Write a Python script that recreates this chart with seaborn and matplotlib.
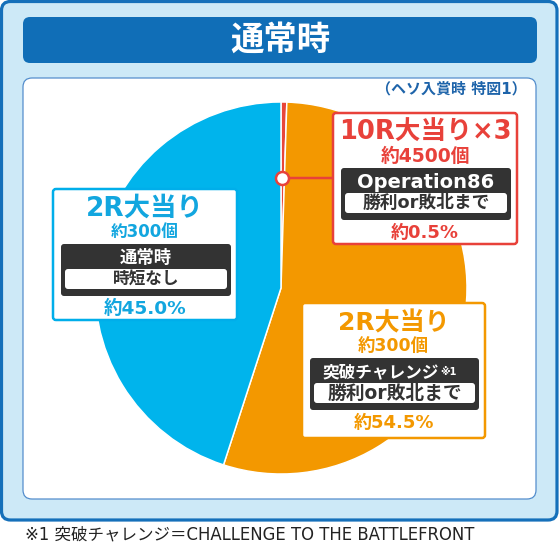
import matplotlib
matplotlib.use("Agg")
import matplotlib.pyplot as plt
from matplotlib.patches import FancyBboxPatch
import seaborn as sns

# --- data ---
shares = [0.5, 54.5, 45.0]
wedge_colors = ["#E8463A", "#F39800", "#00B4EC"]
titles = ["10R大当り×3", "2R大当り", "2R大当り"]
counts = ["約4500個", "約300個", "約300個"]
modes = ["Operation86", "突破チャレンジ", "通常時"]
limits = ["勝利or敗北まで", "勝利or敗北まで", "時短なし"]
pct_labels = ["約0.5%", "約54.5%", "約45.0%"]
heading = "通常時"
subnote = "（ヘソ入賞時 特図1）"
footnote = "※1 突破チャレンジ＝CHALLENGE TO THE BATTLEFRONT"

sns.set_theme(style="white")
plt.rcParams["font.family"] = ["DejaVu Sans", "Noto Sans CJK JP"]

W, H = 560, 543
PX = 0.72  # points per pixel at dpi 100

fig = plt.figure(figsize=(W / 100, H / 100), dpi=100)
ax = fig.add_axes([0, 0, 1, 1], zorder=0)
ax.set_xlim(0, W)
ax.set_ylim(H, 0)
ax.axis("off")


def rbox(a, x0, y0, x1, y1, fc, ec="none", lw=0, r=4, z=1):
    a.add_patch(FancyBboxPatch((x0, y0), x1 - x0, y1 - y0,
                               boxstyle=f"round,pad=0,rounding_size={r}",
                               fc=fc, ec=ec, lw=lw * PX, zorder=z))


# frame, banner, panel
rbox(ax, 1.5, 1.5, 557, 520, "#CDE9F7", "#1570BA", 3.2, r=9)
rbox(ax, 23, 17, 537, 63, "#106EB7", r=7, z=2)
ax.text(280, 40, heading, color="white", fontsize=24, fontweight="bold",
        ha="center", va="center", zorder=3)
rbox(ax, 23, 78, 536, 499, "white", "#4F8ACB", 1.2, r=9, z=2)
ax.text(527, 89, subnote, color="#1E64AA", fontsize=10.8, fontweight="bold",
        ha="right", va="center", zorder=3)
ax.text(25, 535, footnote, color="#222222", fontsize=11.9,
        ha="left", va="center", zorder=3)

# pie
cx, cy, R = 281, 288, 186
pax = fig.add_axes([(cx - R) / W, (H - cy - R) / H, 2 * R / W, 2 * R / H], zorder=1)
pax.pie(shares, colors=sns.color_palette(wedge_colors), startangle=90, counterclock=False,
        wedgeprops=dict(edgecolor="white", linewidth=1.5 * PX))
pax.set_xlim(-1, 1)
pax.set_ylim(-1, 1)
pax.axis("off")

# overlay for callouts
oax = fig.add_axes([0, 0, 1, 1], zorder=2)
oax.set_xlim(0, W)
oax.set_ylim(H, 0)
oax.axis("off")
oax.patch.set_alpha(0)

text_colors = ["#E8413A", "#F39800", "#12A6DF"]
edge_colors = ["#E8413A", "#F39800", "#00AEEA"]


def callout(i, x0, y0, x1, y1, sizes, mode_dx=1):
    c = text_colors[i]
    xm = (x0 + x1) / 2
    rbox(oax, x0, y0, x1, y1, "white", edge_colors[i], 2.5, r=3, z=3)
    oax.text(xm, y0 + 20, titles[i], color=c, fontsize=sizes[0], fontweight="bold",
             ha="center", va="center", zorder=4)
    oax.text(xm, y0 + 43, counts[i], color=c, fontsize=sizes[1], fontweight="bold",
             ha="center", va="center", zorder=4)
    rbox(oax, x0 + 8, y0 + 55, x1 - 6, y0 + 107, "#333333", r=3, z=4)
    oax.text(xm + mode_dx, y0 + 69, modes[i], color="white", fontsize=sizes[2],
             fontweight="bold", ha="center", va="center", zorder=5)
    rbox(oax, x0 + 12, y0 + 80, x1 - 10, y0 + 100, "white", r=3, z=5)
    oax.text(xm + 1, y0 + 90, limits[i], color="#333333", fontsize=sizes[3], fontweight="bold",
             ha="center", va="center", zorder=6)
    oax.text(xm, y0 + 120, pct_labels[i], color=c, fontsize=sizes[4], fontweight="bold",
             ha="center", va="center", zorder=4)


# red (10R) callout with marker
oax.plot([282, 333], [178, 178], color="#E8413A", lw=2.5 * PX, zorder=3)
oax.plot(282, 178, "o", ms=13 * PX, mfc="white", mec="#E8413A", mew=2.5 * PX, zorder=4)
callout(0, 333, 113, 517, 244, [18.5, 13.5, 14, 12.8, 13])
callout(1, 302, 303, 485, 438, [18, 12.5, 12, 13.5, 13], mode_dx=-13)
oax.text(440, 372, "※1", color="white", fontsize=7, fontweight="bold",
         ha="left", va="center", zorder=6)
callout(2, 53, 189, 237, 320, [19, 12, 12.5, 12, 13.3])

fig.savefig("out.png", dpi=100)
